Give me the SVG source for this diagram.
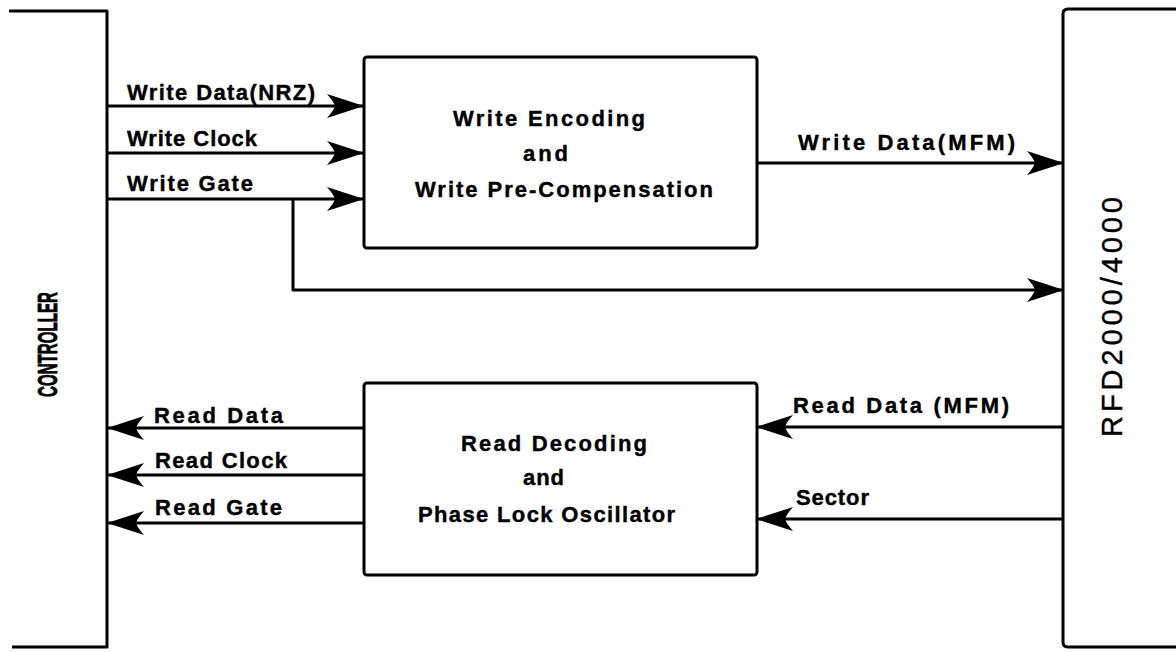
<svg xmlns="http://www.w3.org/2000/svg" width="1176" height="652" viewBox="0 0 1176 652">
  <style>
    .ln { fill: none; stroke: #000; stroke-width: 3; stroke-linejoin: round; stroke-linecap: butt; }
    .box { fill: #fff; stroke: #000; stroke-width: 3; }
    .lbl { font-family: "Liberation Sans", Arial, sans-serif; font-weight: bold; font-size: 22px; fill: #000; stroke: #000; stroke-width: 0.4; }
    .big { font-family: "Liberation Sans", Arial, sans-serif; fill: #000; }
  </style>
  <defs>
    <marker id="ah" viewBox="-40 -15 42 30" markerWidth="42" markerHeight="30" refX="0" refY="0" orient="auto" markerUnits="userSpaceOnUse">
      <path d="M1,0 L-36,-12 Q-29,-4 -28,0 Q-29,4 -36,12 Z" fill="#000"/>
    </marker>
  </defs>
  <rect width="1176" height="652" fill="#fff"/>

  <g id="controller">
    <path class="ln" d="M9,11 L107,11 L107,647 L12,647"/>
    <text class="big" font-weight="bold" font-size="27" stroke="#000" stroke-width="0.8" transform="translate(57,344.5) rotate(-90)" text-anchor="middle" textLength="105" lengthAdjust="spacingAndGlyphs">CONTROLLER</text>
  </g>

  <g id="rfd">
    <path class="ln" d="M1176,9 L1068,9 Q1063,9 1063,14 L1063,642 Q1063,647 1068,647 L1176,647"/>
    <text class="big" font-size="29" stroke="#000" stroke-width="0.4" transform="translate(1122,317) rotate(-90)" text-anchor="middle" textLength="240" lengthAdjust="spacing">RFD2000/4000</text>
  </g>

  <g id="write-box">
    <rect class="box" x="364" y="57" width="393" height="191" rx="3"/>
    <text class="lbl" x="453" y="126" textLength="192" lengthAdjust="spacing">Write Encoding</text>
    <text class="lbl" x="523" y="161" textLength="45" lengthAdjust="spacing">and</text>
    <text class="lbl" x="415" y="197" textLength="298" lengthAdjust="spacing">Write Pre-Compensation</text>
  </g>

  <g id="read-box">
    <rect class="box" x="364" y="383" width="393" height="192" rx="3"/>
    <text class="lbl" x="461" y="451" textLength="186" lengthAdjust="spacing">Read Decoding</text>
    <text class="lbl" x="523" y="485" textLength="41" lengthAdjust="spacing">and</text>
    <text class="lbl" x="418" y="522" textLength="257" lengthAdjust="spacing">Phase Lock Oscillator</text>
  </g>

  <g id="connectors">
    <g id="c-write-data-nrz">
      <path class="ln" d="M107,106 L363,106" marker-end="url(#ah)"/>
      <text class="lbl" x="127" y="100" textLength="188" lengthAdjust="spacing">Write Data(NRZ)</text>
    </g>
    <g id="c-write-clock">
      <path class="ln" d="M107,153 L363,153" marker-end="url(#ah)"/>
      <text class="lbl" x="127" y="146" textLength="130" lengthAdjust="spacing">Write Clock</text>
    </g>
    <g id="c-write-gate">
      <path class="ln" d="M107,199 L363,199" marker-end="url(#ah)"/>
      <text class="lbl" x="127" y="191" textLength="126" lengthAdjust="spacing">Write Gate</text>
    </g>
    <g id="c-write-gate-rfd">
      <path class="ln" d="M293,199 L293,290 L1063,290" marker-end="url(#ah)"/>
    </g>
    <g id="c-write-data-mfm">
      <path class="ln" d="M757,163 L1063,163" marker-end="url(#ah)"/>
      <text class="lbl" x="798" y="150" textLength="217" lengthAdjust="spacing">Write  Data(MFM)</text>
    </g>
    <g id="c-read-data-mfm">
      <path class="ln" d="M1063,427 L757,427" marker-end="url(#ah)"/>
      <text class="lbl" x="793" y="413" textLength="216" lengthAdjust="spacing">Read Data (MFM)</text>
    </g>
    <g id="c-sector">
      <path class="ln" d="M1063,519 L757,519" marker-end="url(#ah)"/>
      <text class="lbl" x="796" y="505" textLength="73" lengthAdjust="spacing">Sector</text>
    </g>
    <g id="c-read-data">
      <path class="ln" d="M363,428 L108,428" marker-end="url(#ah)"/>
      <text class="lbl" x="154" y="423" textLength="129" lengthAdjust="spacing">Read  Data</text>
    </g>
    <g id="c-read-clock">
      <path class="ln" d="M363,475 L108,475" marker-end="url(#ah)"/>
      <text class="lbl" x="155" y="468" textLength="132" lengthAdjust="spacing">Read Clock</text>
    </g>
    <g id="c-read-gate">
      <path class="ln" d="M363,523 L108,523" marker-end="url(#ah)"/>
      <text class="lbl" x="155" y="515" textLength="127" lengthAdjust="spacing">Read Gate</text>
    </g>
  </g>
</svg>
